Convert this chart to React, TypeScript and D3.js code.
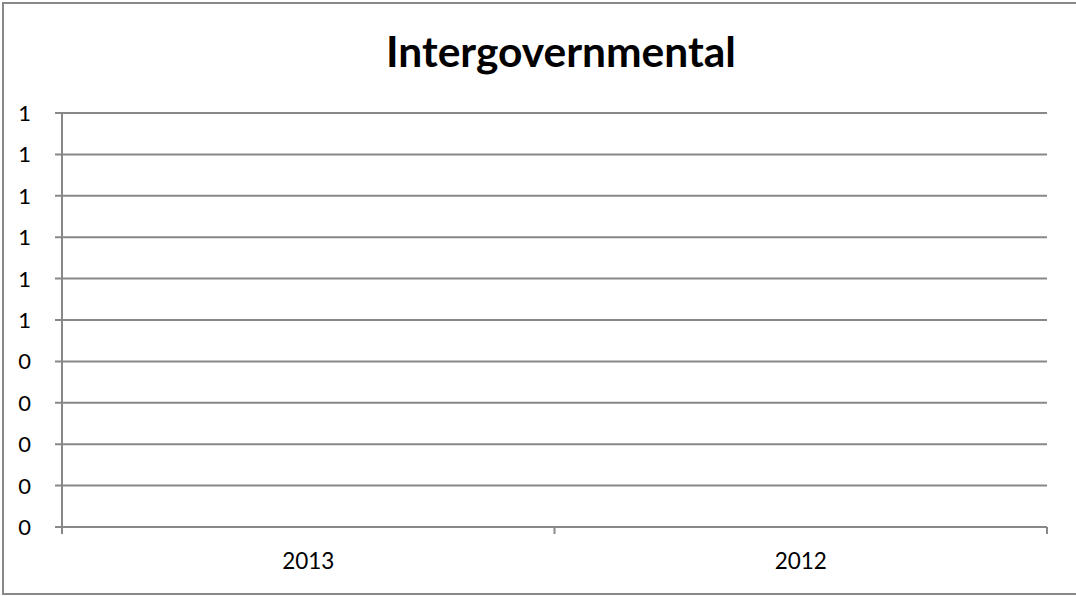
import React from "react";
import * as d3 from "d3";

const title = "Intergovernmental";
const categories = ["2013", "2012"];
const seriesValues: (number | null)[] = [null, null];
const yTickValues = [0, 0.1, 0.2, 0.3, 0.4, 0.5, 0.6, 0.7, 0.8, 0.9, 1.0];

const W = 1076;
const H = 596;
const left = 62;
const right = 1047;
const top = 113;
const bottom = 527;
const gray = "#888888";
const font = "Lato, 'Open Sans', sans-serif";

function fmt(v: number) {
  return String(Math.round(v + 1e-9));
}

export default function App() {
  const y = d3.scaleLinear().domain([0, 1]).range([bottom, top]);
  const x = d3.scaleBand<string>().domain(categories).range([left, right]);
  const edges = [left, ...categories.map((c) => (x(c) as number) + x.bandwidth())];
  return (
    <svg width={W} height={H} style={{ position: "absolute", left: 0, top: 0, background: "#fff" }}>
      <rect x={3} y={3} width={W + 10} height={591} fill="#fff" stroke={gray} strokeWidth={2} />
      <text x={561} y={67} textAnchor="middle" fontFamily={font} fontWeight={700} fontSize={42.5} fill="#000">
        {title}
      </text>
      {yTickValues.map((v, i) => (
        <g key={i}>
          <line x1={55} x2={right} y1={y(v)} y2={y(v)} stroke={gray} strokeWidth={2} />
          <text x={31} y={y(v)} dy="0.36em" textAnchor="end" fontFamily={font} fontSize={22} fill="#000">
            {fmt(v)}
          </text>
        </g>
      ))}
      <line x1={left} x2={left} y1={top} y2={bottom + 7} stroke={gray} strokeWidth={2} />
      {edges.map((e, i) => (
        <line key={i} x1={e} x2={e} y1={bottom} y2={bottom + 7} stroke={gray} strokeWidth={2} />
      ))}
      {categories.map((c) => (
        <text key={c} x={(x(c) as number) + x.bandwidth() / 2} y={569} textAnchor="middle" fontFamily={font} fontSize={22.5} fill="#000">
          {c}
        </text>
      ))}
      {seriesValues.map((v, i) =>
        v == null ? null : (
          <circle key={i} cx={(x(categories[i]) as number) + x.bandwidth() / 2} cy={y(v)} r={3} fill="#4f81bd" />
        )
      )}
    </svg>
  );
}
